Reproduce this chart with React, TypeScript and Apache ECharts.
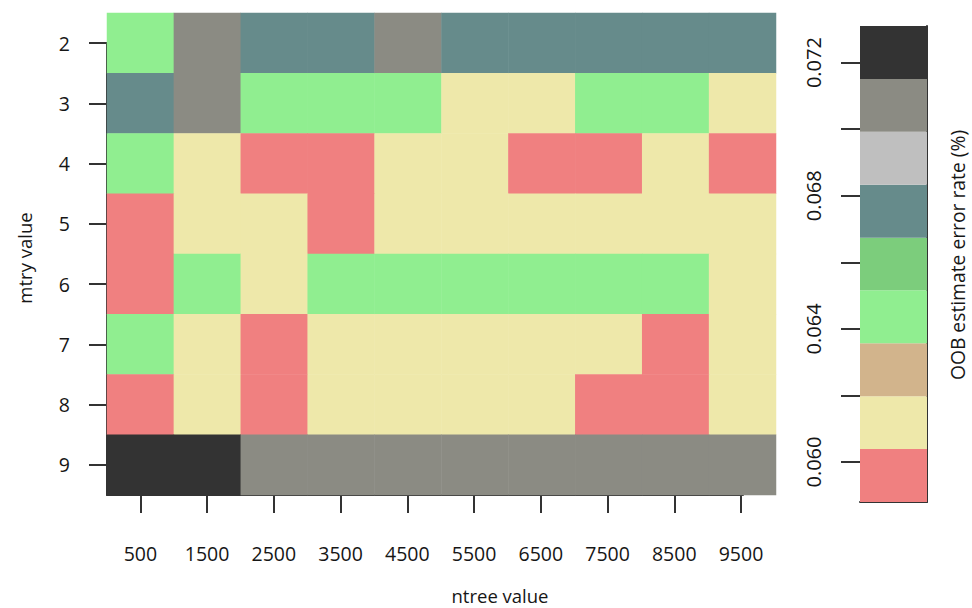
import React, { useEffect, useRef } from "react";
import * as echarts from "echarts";

// ntree values (columns) and mtry values (rows)
const ntreeValues = ["500", "1500", "2500", "3500", "4500", "5500", "6500", "7500", "8500", "9500"];
const mtryValues = ["2", "3", "4", "5", "6", "7", "8", "9"];

// OOB estimate error rate per mtry row, across ntree columns
const mtry2 = [0.0645, 0.0706, 0.0678, 0.0677, 0.0708, 0.0675, 0.0676, 0.0679, 0.0677, 0.0676];
const mtry3 = [0.0675, 0.0707, 0.0644, 0.0646, 0.0643, 0.0612, 0.0614, 0.0645, 0.0643, 0.0611];
const mtry4 = [0.0644, 0.0613, 0.0597, 0.0598, 0.0611, 0.0612, 0.0596, 0.0597, 0.0613, 0.0598];
const mtry5 = [0.0596, 0.0612, 0.0614, 0.0597, 0.0612, 0.0611, 0.0613, 0.0612, 0.0614, 0.0612];
const mtry6 = [0.0595, 0.0645, 0.0612, 0.0644, 0.0643, 0.0645, 0.0644, 0.0646, 0.0643, 0.0611];
const mtry7 = [0.0644, 0.0612, 0.0597, 0.0613, 0.0612, 0.0614, 0.0611, 0.0612, 0.0596, 0.0613];
const mtry8 = [0.0597, 0.0613, 0.0596, 0.0612, 0.0611, 0.0612, 0.0614, 0.0597, 0.0598, 0.0612];
const mtry9 = [0.0724, 0.0722, 0.0706, 0.0708, 0.0707, 0.0705, 0.0707, 0.0708, 0.0706, 0.0707];
const oobRows = [mtry2, mtry3, mtry4, mtry5, mtry6, mtry7, mtry8, mtry9];

// colour key
const colorBreaks = [0.0588, 0.06039, 0.06198, 0.06357, 0.06516, 0.06674, 0.06833, 0.06992, 0.07151, 0.0731];
const binColors = ["#f08080", "#eee8aa", "#d2b48c", "#90ee90", "#7ccd7c", "#668b8b", "#bfbfbf", "#8b8b83", "#333333"];
const keyTicks = [0.06, 0.062, 0.064, 0.066, 0.068, 0.07, 0.072];
const keyLabels = [0.06, 0.064, 0.068, 0.072];
const xTickValues = [500, 1500, 2500, 3500, 4500, 5500, 6500, 7500, 8500, 9500];
const yTickValues = [2, 3, 4, 5, 6, 7, 8, 9];

const FONT = "'Open Sans', 'Noto Sans', sans-serif";
const TXT = "#161616";
const LINE = "#333";

export default function App() {
  const ref = useRef<HTMLDivElement>(null);
  useEffect(() => {
    if (!ref.current) return;
    const chart = echarts.init(ref.current, null, { renderer: "svg" });

    const heatData: number[][] = [];
    oobRows.forEach((row, r) => row.forEach((v, c) => heatData.push([c, r, v])));

    const keyData = binColors.map((_, i) => [colorBreaks[i], colorBreaks[i + 1], i]);

    const option: any = {
      animation: false,
      backgroundColor: "#fff",
      textStyle: { fontFamily: FONT },
      grid: [
        { left: 107, top: 13, width: 669, height: 482 },
        { left: 107, top: 43, width: 636, height: 452 },
        { left: 860, top: 26, width: 67, height: 476 },
      ],
      xAxis: [
        { type: "category", gridIndex: 0, data: ntreeValues, show: false },
        {
          type: "value",
          gridIndex: 1,
          min: 0,
          max: 9530,
          position: "bottom",
          splitLine: { show: false },
          axisLine: { show: true, lineStyle: { color: LINE, width: 2 } },
          axisTick: { show: true, length: 18, customValues: xTickValues, lineStyle: { color: LINE, width: 2 } },
          axisLabel: {
            customValues: xTickValues,
            margin: 48,
            fontSize: 19.5,
            color: TXT,
            fontFamily: FONT,
            formatter: (v: number) => String(v),
          },
        },
        {
          type: "value",
          gridIndex: 2,
          min: 0,
          max: 1,
          position: "bottom",
          splitLine: { show: false },
          axisLine: { show: true, lineStyle: { color: LINE, width: 2 } },
          axisTick: { show: false },
          axisLabel: { show: false },
        },
      ],
      yAxis: [
        { type: "category", gridIndex: 0, data: mtryValues, inverse: true, show: false },
        {
          type: "value",
          gridIndex: 1,
          min: 2,
          max: 9.5,
          inverse: true,
          position: "left",
          splitLine: { show: false },
          axisLine: { show: true, lineStyle: { color: LINE, width: 2 } },
          axisTick: { show: true, length: 18, customValues: yTickValues, lineStyle: { color: LINE, width: 2 } },
          axisLabel: {
            customValues: yTickValues,
            margin: 37,
            fontSize: 19.5,
            color: TXT,
            fontFamily: FONT,
            formatter: (v: number) => String(v),
          },
        },
        {
          type: "value",
          gridIndex: 2,
          min: colorBreaks[0],
          max: colorBreaks[colorBreaks.length - 1],
          position: "left",
          splitLine: { show: false },
          axisLine: { show: false },
          axisTick: { show: true, length: 19, customValues: keyTicks, lineStyle: { color: LINE, width: 2 } },
          axisLabel: {
            customValues: keyLabels,
            rotate: 90,
            margin: 37,
            fontSize: 20,
            color: TXT,
            fontFamily: FONT,
            formatter: (v: number) => v.toFixed(3),
          },
        },
        {
          type: "value",
          gridIndex: 2,
          min: colorBreaks[0],
          max: colorBreaks[colorBreaks.length - 1],
          position: "right",
          splitLine: { show: false },
          axisLine: { show: true, lineStyle: { color: LINE, width: 2 } },
          axisTick: { show: false },
          axisLabel: { show: false },
        },
      ],
      visualMap: {
        type: "piecewise",
        show: false,
        seriesIndex: 0,
        dimension: 2,
        pieces: binColors.map((c, i) => ({ gte: colorBreaks[i], lt: colorBreaks[i + 1], color: c })),
      },
      series: [
        {
          type: "heatmap",
          xAxisIndex: 0,
          yAxisIndex: 0,
          data: heatData,
          itemStyle: { borderWidth: 0 },
          emphasis: { disabled: true },
        },
        {
          type: "custom",
          xAxisIndex: 2,
          yAxisIndex: 2,
          data: keyData,
          encode: { y: [0, 1] },
          renderItem: (params: any, api: any) => {
            const lo = api.value(0);
            const hi = api.value(1);
            const idx = api.value(2);
            const p1 = api.coord([0, hi]);
            const p2 = api.coord([1, lo]);
            return {
              type: "rect",
              shape: { x: p1[0], y: p1[1], width: p2[0] - p1[0], height: p2[1] - p1[1] },
              style: { fill: binColors[idx], stroke: null },
            };
          },
        },
      ],
      graphic: [
        {
          type: "text",
          x: 24,
          y: 258,
          rotation: Math.PI / 2,
          style: { text: "mtry value", fill: TXT, font: `18.5px ${FONT}`, textAlign: "center", textVerticalAlign: "middle" },
        },
        {
          type: "text",
          x: 500,
          y: 595,
          style: { text: "ntree value", fill: TXT, font: `18.5px ${FONT}`, textAlign: "center", textVerticalAlign: "middle" },
        },
        {
          type: "text",
          x: 957,
          y: 255,
          rotation: Math.PI / 2,
          style: {
            text: "OOB estimate error rate (%)",
            fill: TXT,
            font: `19.3px ${FONT}`,
            textAlign: "center",
            textVerticalAlign: "middle",
          },
        },
      ],
    };
    chart.setOption(option);
    return () => chart.dispose();
  }, []);

  return (
    <div
      ref={ref}
      style={{ position: "absolute", left: 0, top: 0, width: 972, height: 608, background: "#fff" }}
    />
  );
}
